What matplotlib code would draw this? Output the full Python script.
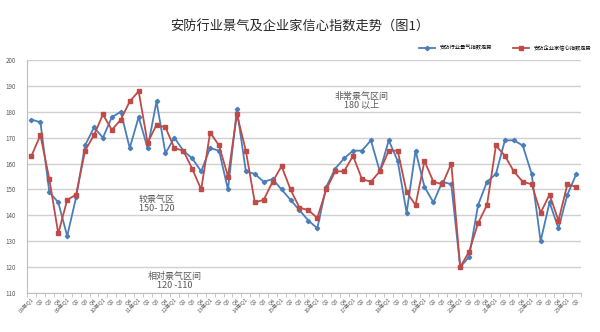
import matplotlib
matplotlib.use("Agg")
import matplotlib.pyplot as plt
import numpy as np

plt.rcParams['font.family'] = ['Noto Sans CJK SC', 'DejaVu Sans']

# quarters 2008 Q1 .. 2023 Q2
years = list(range(8, 24))
labels = []
for y in years:
    for q in range(1, 5):
        if y == 23 and q > 2:
            break
        labels.append("%02d年Q1" % y if q == 1 else "Q%d" % q)

# 安防行业景气指数
prosperity = [177, 176, 149, 145, 132, 147, 167, 174, 170, 178,
              180, 166, 178, 166, 184, 164, 170, 165, 162, 157,
              166, 165, 150, 181, 157, 156, 153, 154, 150, 146,
              142, 138, 135, 151, 158, 162, 165, 165, 169, 157,
              169, 161, 141, 165, 151, 145, 153, 152, 120, 124,
              144, 153, 156, 169, 169, 167, 156, 130, 145, 135,
              148, 156]
# 安防企业家信心指数
confidence = [163, 171, 154, 133, 146, 148, 165, 171, 179, 173,
              177, 184, 188, 168, 175, 174, 166, 165, 158, 150,
              172, 167, 155, 179, 165, 145, 146, 153, 159, 150,
              143, 142, 139, 150, 157, 157, 163, 154, 153, 157,
              165, 165, 149, 144, 161, 153, 152, 160, 120, 126,
              137, 144, 167, 163, 157, 153, 152, 141, 148, 138,
              152, 151]

x = np.arange(len(labels))

fig = plt.figure(figsize=(6, 3.32), dpi=100)
ax = fig.add_axes([0.045, 0.1175, 0.923, 0.7015])

blue = "#4a7ebb"
red = "#be4b48"
ax.plot(x, prosperity, color=blue, lw=1.3, marker="D", ms=2.2,
        label="安防行业景气指数走势", zorder=3)
ax.plot(x, confidence, color=red, lw=1.3, marker="s", ms=3.2,
        label="安防企业家信心指数走势", zorder=3)

ax.set_xlim(-0.5, len(labels) - 0.5)
ax.set_ylim(110, 200)
ax.set_yticks(range(110, 201, 10))
ax.tick_params(axis="y", labelsize=4.5, colors="#595959", length=0, pad=8)
ax.yaxis.grid(True, color="#d0d0d0", lw=1)
ax.set_axisbelow(True)

ax.set_xticks(x)
ax.set_xticklabels(labels, rotation=45, ha="right", rotation_mode="anchor",
                   fontsize=4, color="#595959")
ax.tick_params(axis="x", which="major", length=0, pad=3)
ax.set_xticks(np.arange(-0.5, len(labels)), minor=True)
ax.tick_params(axis="x", which="minor", length=3, color="#bfbfbf")

for s in ["top", "right"]:
    ax.spines[s].set_visible(False)
for s in ["left", "bottom"]:
    ax.spines[s].set_color("#bfbfbf")

ax.text(37, 184, "非常景气区间\n180 以上", ha="center", va="center",
        fontsize=6.5, color="#595959", linespacing=1.0)
ax.text(14, 144.5, "较景气区\n150- 120", ha="center", va="center",
        fontsize=6.5, color="#595959", linespacing=1.0)
ax.text(16, 114.5, "相对景气区间\n120 -110", ha="center", va="center",
        fontsize=6.5, color="#595959", linespacing=1.0)

fig.text(0.5, 0.92, "安防行业景气及企业家信心指数走势（图1）", ha="center",
         va="center", fontsize=9.5, color="#262626")

ax.legend(loc="lower right", bbox_to_anchor=(1.025, 1.025), ncol=2, frameon=False,
          fontsize=3.8, handlelength=3, columnspacing=4, borderaxespad=0.3)

fig.savefig("out.png", dpi=100, facecolor="white")
